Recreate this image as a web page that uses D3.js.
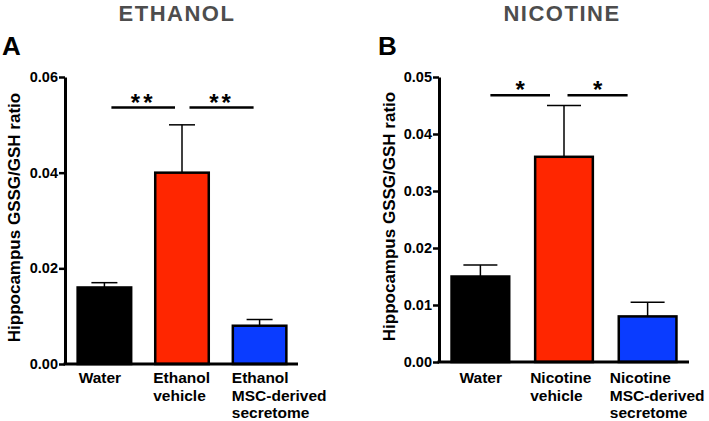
<!DOCTYPE html>
<html>
<head>
<meta charset="utf-8">
<script src="https://cdn.jsdelivr.net/npm/d3@7"></script>
<style>
  body { margin: 0; background: #fff; }
  svg { display: block; font-family: "Liberation Sans", Arial, Helvetica, sans-serif; }
</style>
</head>
<body>
<div id="chart"></div>
<script>
// ---- data ----
const titles = ["ETHANOL", "NICOTINE"];
const letters = ["A", "B"];
const yLabel = "Hippocampus GSSG/GSH ratio";

const catsA = [["Water"], ["Ethanol", "vehicle"], ["Ethanol", "MSC-derived", "secretome"]];
const meanA = [0.016, 0.040, 0.008];
const semA  = [0.001, 0.010, 0.0013];
const ticksA = [0, 0.02, 0.04, 0.06];
const sigA = [{ from: 0, to: 1, label: "**" }, { from: 1, to: 2, label: "**" }];
const sigLevelA = 0.0536;

const catsB = [["Water"], ["Nicotine", "vehicle"], ["Nicotine", "MSC-derived", "secretome"]];
const meanB = [0.015, 0.036, 0.008];
const semB  = [0.002, 0.009, 0.0025];
const ticksB = [0, 0.01, 0.02, 0.03, 0.04, 0.05];
const sigB = [{ from: 0, to: 1, label: "*" }, { from: 1, to: 2, label: "*" }];
const sigLevelB = 0.0468;

const barColors = ["#000000", "#ff2600", "#0a3cff"];

// ---- layout (pixels) ----
const W = 709, H = 421;
const panels = [
  { title: titles[0], letter: letters[0], cats: catsA, mean: meanA, sem: semA, ticks: ticksA,
    sig: sigA, sigLevel: sigLevelA,
    x0: 65, x1: 298, yTop: 77, yBot: 364, titleX: 177, letterX: 2, labelX: 20,
    cap: 26, labelDx: [1, -2, -1], sigInset: [[7, 7], [7.5, 6]], range: [66, 298] },
  { title: titles[1], letter: letters[1], cats: catsB, mean: meanB, sem: semB, ticks: ticksB,
    sig: sigB, sigLevel: sigLevelB,
    x0: 439, x1: 689, yTop: 77, yBot: 362, titleX: 562, letterX: 378, labelX: 395,
    cap: 34, labelDx: [8, -5, -9], sigInset: [[10, 14], [3.5, 20]], range: [439, 689] }
];

const svg = d3.select("#chart").append("svg")
    .attr("width", W)
    .attr("height", H);

panels.forEach(p => {
  const g = svg.append("g");
  const yMax = p.ticks[p.ticks.length - 1];

  const y = d3.scaleLinear().domain([0, yMax]).range([p.yBot, p.yTop]);
  const x = d3.scaleBand()
      .domain(d3.range(p.cats.length))
      .range(p.range)
      .paddingInner(0.31)
      .paddingOuter(0.15);

  // title + panel letter
  g.append("text")
      .attr("x", p.titleX).attr("y", 21)
      .attr("text-anchor", "middle")
      .attr("fill", "#4d4d4d")
      .attr("font-size", 22).attr("font-weight", "bold")
      .style("letter-spacing", "1.5px")
      .text(p.title);

  g.append("text")
      .attr("x", p.letterX).attr("y", 55)
      .attr("fill", "#000")
      .attr("font-size", 26).attr("font-weight", "bold")
      .text(p.letter);

  // y label
  g.append("text")
      .attr("transform", `translate(${p.labelX},${(p.yTop + p.yBot) / 2 - 3}) rotate(-90)`)
      .attr("text-anchor", "middle")
      .attr("font-size", 17).attr("font-weight", "bold")
      .text(yLabel);

  // bars
  g.append("g").selectAll("rect")
    .data(p.mean)
    .join("rect")
      .attr("x", (d, i) => x(i))
      .attr("y", d => y(d))
      .attr("width", x.bandwidth())
      .attr("height", d => y(0) - y(d))
      .attr("fill", (d, i) => barColors[i])
      .attr("stroke", "#000")
      .attr("stroke-width", 2.5);

  // error bars (upper only)
  const eb = g.append("g").attr("stroke", "#000").attr("stroke-width", 1.5);
  eb.selectAll("line.v")
    .data(p.mean)
    .join("line").attr("class", "v")
      .attr("x1", (d, i) => x(i) + x.bandwidth() / 2)
      .attr("x2", (d, i) => x(i) + x.bandwidth() / 2)
      .attr("y1", d => y(d))
      .attr("y2", (d, i) => y(d + p.sem[i]));
  eb.selectAll("line.c")
    .data(p.mean)
    .join("line").attr("class", "c")
      .attr("x1", (d, i) => x(i) + x.bandwidth() / 2 - p.cap / 2)
      .attr("x2", (d, i) => x(i) + x.bandwidth() / 2 + p.cap / 2)
      .attr("y1", (d, i) => y(d + p.sem[i]))
      .attr("y2", (d, i) => y(d + p.sem[i]));

  // axes
  const yAxis = g.append("g")
      .attr("transform", `translate(${p.x0},0)`)
      .call(d3.axisLeft(y).tickValues(p.ticks).tickFormat(d3.format(".2f"))
        .tickSize(6).tickSizeOuter(0).tickPadding(1));
  yAxis.attr("font-size", 14.5).attr("font-weight", "bold")
      .attr("font-family", "'Liberation Sans', Arial, sans-serif");
  yAxis.select(".domain").attr("stroke-width", 3);
  yAxis.selectAll(".tick line").attr("stroke-width", 2.5);
  yAxis.selectAll(".tick text").attr("fill", "#000");

  g.append("line")
      .attr("x1", p.x0 - 1.5).attr("x2", p.x1)
      .attr("y1", y(0)).attr("y2", y(0))
      .attr("stroke", "#000").attr("stroke-width", 3);

  // category labels
  const lab = g.append("g").selectAll("text")
    .data(p.cats)
    .join("text")
      .attr("x", (d, i) => x(i) + p.labelDx[i])
      .attr("y", 383)
      .attr("font-size", 15.5).attr("font-weight", "bold");
  lab.selectAll("tspan")
    .data((d, i) => d.map(t => ({ t, i })))
    .join("tspan")
      .attr("x", d => x(d.i) + p.labelDx[d.i])
      .attr("dy", (d, k) => k === 0 ? 0 : 17.5)
      .text(d => d.t);

  // significance brackets
  const sy = y(p.sigLevel);
  const cx = i => x(i) + x.bandwidth() / 2;
  p.sig.forEach((s, k) => {
    const xa = cx(s.from) + p.sigInset[k][0];
    const xb = cx(s.to) - p.sigInset[k][1];
    g.append("line")
        .attr("x1", xa).attr("x2", xb)
        .attr("y1", sy).attr("y2", sy)
        .attr("stroke", "#000").attr("stroke-width", 2.5);
    g.append("text")
        .attr("x", (xa + xb) / 2).attr("y", sy + 3)
        .attr("text-anchor", "middle")
        .attr("font-size", 24).attr("font-weight", "bold")
        .style("letter-spacing", s.label.length > 1 ? "3px" : "0px")
        .text(s.label);
  });
});
</script>
</body>
</html>
